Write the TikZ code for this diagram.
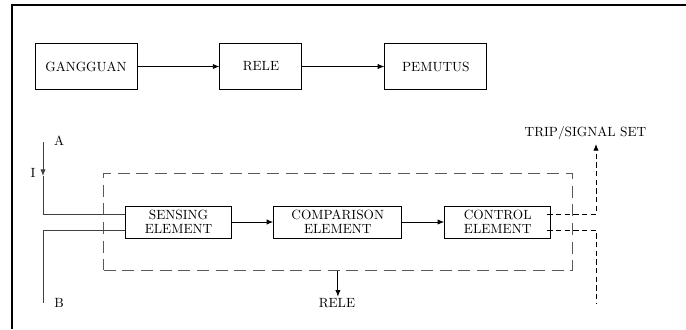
\documentclass[tikz,border=0pt]{standalone}
\usetikzlibrary{positioning,arrows.meta,fit}
\begin{document}
\begin{tikzpicture}[x=0.75pt, y=-0.75pt, >={Latex[length=5pt,width=4pt]},
  main node/.style={rectangle, draw, line width=0.7pt, minimum height=35pt, inner sep=2pt},
  elem node/.style={rectangle, draw, line width=0.7pt, minimum height=24pt, inner sep=1pt, align=center,
    font=\fontsize{10}{10.5}\selectfont},
  relay box/.style={draw=black!65, line width=0.7pt, dash pattern=on 9pt off 5pt},
  out line/.style={line width=0.6pt, dash pattern=on 4pt off 2.5pt}]
  \tikzstyle{every node}=[font=\normalsize]
  \useasboundingbox (0,0) rectangle (686,329);
  \draw[line width=1.5pt] (12,329) -- (12,5) -- (686,5);

  \node[main node, minimum width=76.5pt] (1) at (86,66.5) {GANGGUAN};
  \node[main node, minimum width=61.5pt] (2) [right=61.5pt of 1] {RELE};
  \node[main node, minimum width=76.5pt] (3) [right=61.5pt of 2] {PEMUTUS};

  \path[->, line width=0.7pt]
    (1) edge (2)
    (2) edge (3);

  \node[elem node, minimum width=80pt] (4) at (178.5,222) {SENSING\\ELEMENT};
  \node[elem node, minimum width=96pt] (5) [right=30.75pt of 4] {COMPARISON\\ELEMENT};
  \node[elem node, minimum width=79.5pt] (6) [right=31.5pt of 5] {CONTROL\\ELEMENT};

  \path[->, line width=0.7pt]
    (4) edge (5)
    (5) edge (6);

  \node[relay box, fit=(4)(6), inner xsep=15.8pt, inner ysep=24pt] (r) {};

  % masukan A dan B
  \coordinate (a) at (43,142);
  \coordinate (i) at (43,176);
  \coordinate (b) at (43,303);
  \node[inner sep=0pt] (alabel) at (59,141) {A};
  \node[inner sep=0pt] (ilabel) at (33,173) {I};
  \node[inner sep=0pt] (blabel) at (59,303) {B};
  \draw[->, draw=black!75, line width=0.7pt] (a) -- (i);
  \draw[draw=black!75, line width=0.7pt] (i) |- ([yshift=6pt]4.west);
  \draw[draw=black!75, line width=0.7pt] (b) |- ([yshift=-6pt]4.west);

  % keluaran
  \node[inner sep=1pt] (rele) at (337,303) {RELE};
  \draw[->, line width=0.7pt] (r.south) -- (r.south |- rele.north);

  \node[inner sep=1pt] (trip) at (585.5,133) {TRIP/SIGNAL SET};
  \coordinate (t) at (596,144);
  \coordinate (e) at (596,303);
  \draw[out line, ->] ([xshift=-3pt,yshift=6pt]6.east) -| (t);
  \draw[out line] ([xshift=-3pt,yshift=-6pt]6.east) -| (e);
\end{tikzpicture}
\end{document}
